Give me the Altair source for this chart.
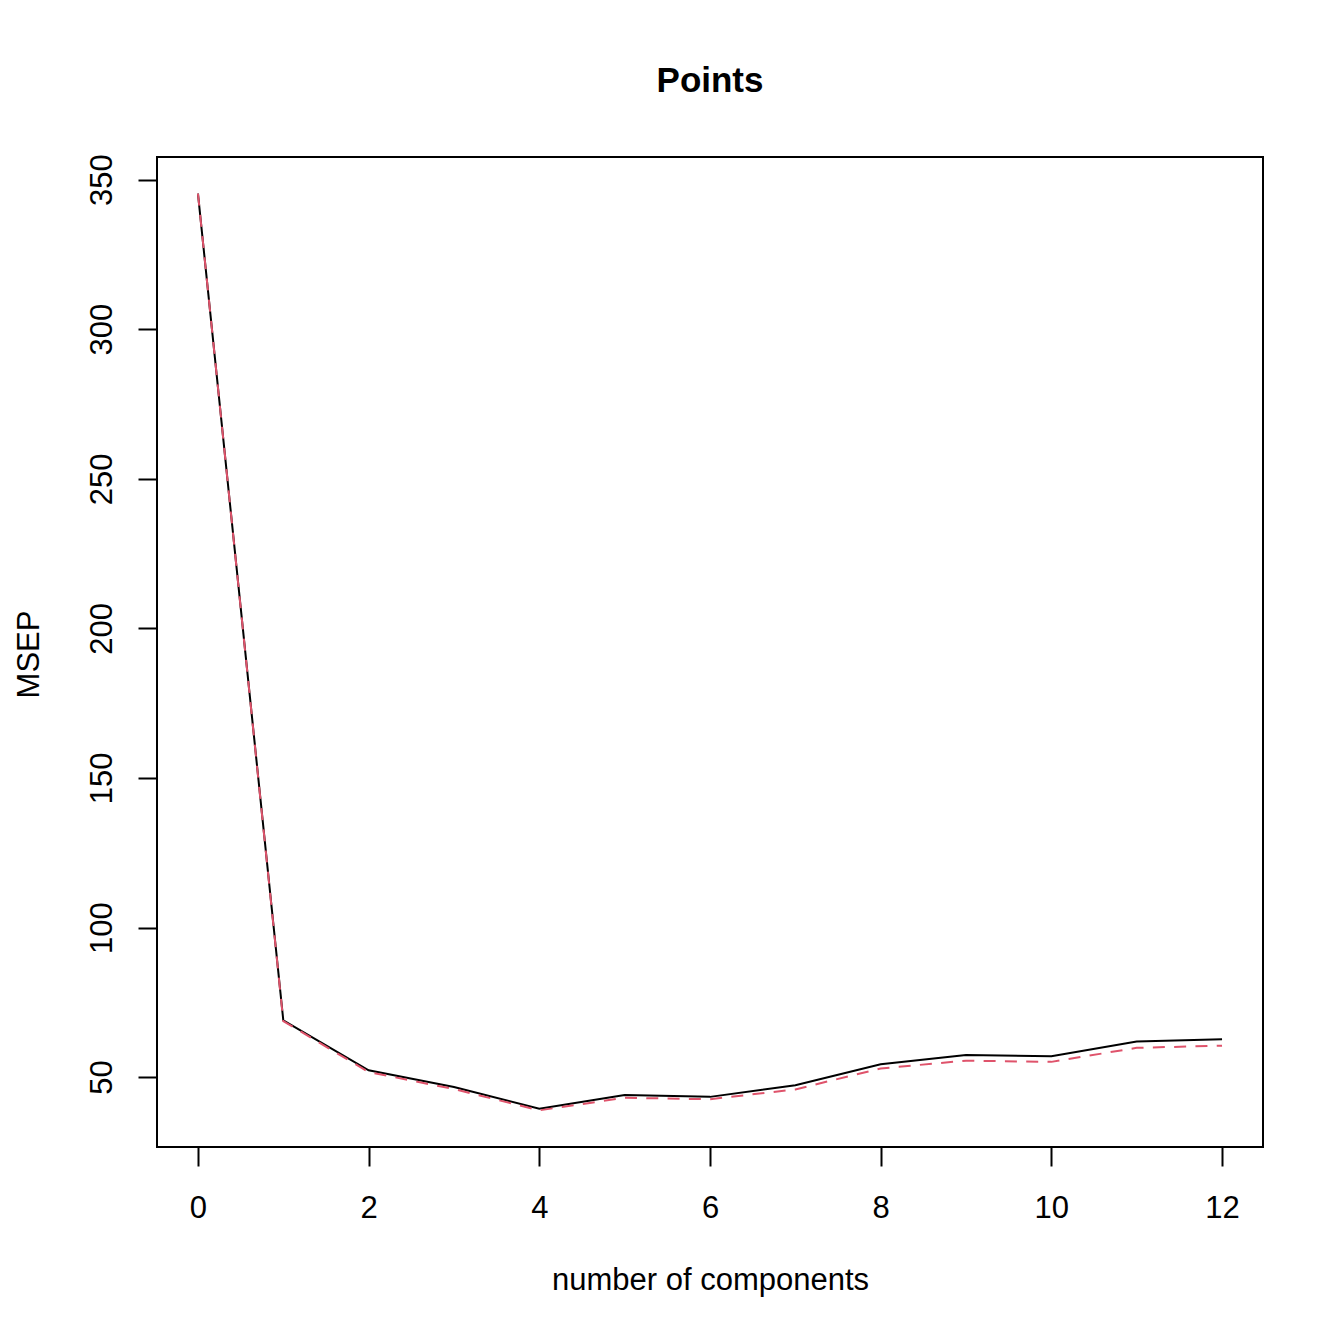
import altair as alt
import pandas as pd

components = list(range(13))
msep_cv = [345.3, 69.0, 52.3, 46.7, 39.4, 44.0, 43.4, 47.3, 54.3, 57.4, 57.0, 61.9, 62.7]
msep_adjcv = [345.3, 68.7, 51.7, 46.0, 38.9, 43.1, 42.6, 45.9, 52.9, 55.5, 55.1, 59.8, 60.5]
x_ticks = [0, 2, 4, 6, 8, 10, 12]
y_ticks = [50, 100, 150, 200, 250, 300, 350]

df_cv = pd.DataFrame({"ncomp": components, "msep": msep_cv})
df_adj = pd.DataFrame({"ncomp": components, "msep": msep_adjcv})

# R-style 4% axis extension
xmin, xmax = min(components), max(components)
ymin, ymax = min(msep_cv + msep_adjcv), max(msep_cv + msep_adjcv)
xpad = (xmax - xmin) * 0.04
ypad = (ymax - ymin) * 0.04

FONT = "Liberation Sans"
FS = 31

x_enc = alt.X(
    "ncomp:Q",
    scale=alt.Scale(domain=[xmin - xpad, xmax + xpad], nice=False, zero=False),
    axis=alt.Axis(
        values=x_ticks, tickSize=19, tickWidth=2, tickColor="black",
        domain=False, grid=False,
        labelFontSize=FS, labelFont=FONT, labelColor="black",
        labelBaseline="alphabetic", labelPadding=51,
        labelFlush=False, labelOverlap=False,
        title="number of components", titleFont=FONT, titleFontSize=FS,
        titleFontWeight="normal", titleColor="black",
        titleX=553, titleY=142, titleAlign="center", titleBaseline="alphabetic",
    ),
)
y_enc = alt.Y(
    "msep:Q",
    scale=alt.Scale(domain=[ymin - ypad, ymax + ypad], nice=False, zero=False),
    axis=alt.Axis(
        values=y_ticks, tickSize=19, tickWidth=2, tickColor="black",
        domain=False, grid=False,
        labelFontSize=FS, labelFont=FONT, labelColor="black",
        labelAngle=270, labelAlign="center", labelBaseline="alphabetic",
        labelPadding=27, labelFlush=False, labelOverlap=False,
        title="MSEP", titleFont=FONT, titleFontSize=FS,
        titleFontWeight="normal", titleColor="black",
        titleAngle=270, titleX=-119, titleY=497,
        titleAlign="center", titleBaseline="alphabetic",
    ),
)

line_cv = alt.Chart(df_cv).mark_line(color="black", strokeWidth=2).encode(x=x_enc, y=y_enc)
line_adj = alt.Chart(df_adj).mark_line(
    color="#DF536B", strokeWidth=2, strokeDash=[12, 9.3]
).encode(x=x_enc, y=y_enc)

chart = (
    alt.layer(line_cv, line_adj)
    .properties(
        width=1106,
        height=990,
        title=alt.TitleParams(
            "Points", font=FONT, fontSize=35, fontWeight="bold", color="black",
            anchor="middle", baseline="alphabetic", offset=27,
        ),
        autosize=alt.AutoSizeParams(type="none"),
        padding={"left": 149, "top": 149, "right": 60, "bottom": 180},
        background="white",
    )
    .configure_view(stroke="black", strokeWidth=2)
)

chart.save("out.html", embed_options={"renderer": "svg", "actions": False})
